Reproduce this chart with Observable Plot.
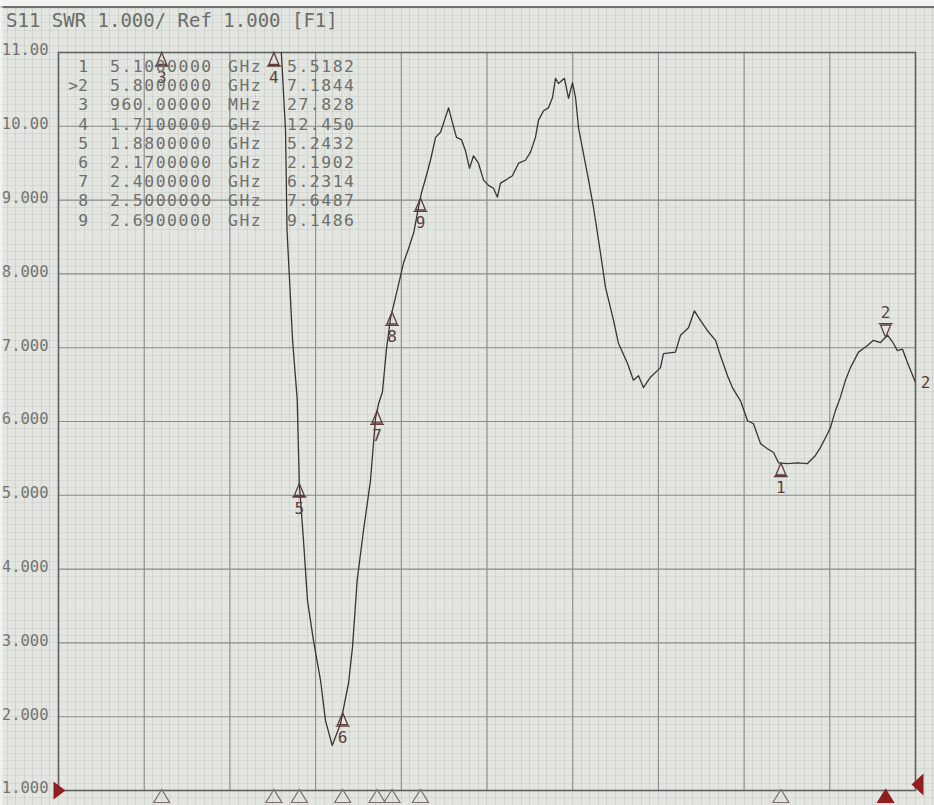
<!DOCTYPE html>
<html>
<head>
<meta charset="utf-8">
<script src="https://cdn.jsdelivr.net/npm/d3@7"></script>
<script src="https://cdn.jsdelivr.net/npm/@observablehq/plot@0.6"></script>
<style>
  html, body { margin: 0; padding: 0; }
  body {
    width: 934px; height: 805px; overflow: hidden; position: relative;
    background-color: #e3e5e0;
    background-image:
      repeating-linear-gradient(90deg, transparent 0 6.58px, rgba(70,75,70,0.11) 6.58px 7.58px, transparent 7.58px 8.57px),
      repeating-linear-gradient(180deg, transparent 0 0.34px, rgba(70,75,70,0.08) 0.34px 1.34px, transparent 1.34px 7.38px);
    font-family: "DejaVu Sans Mono", monospace;
  }
  #title { position: absolute; left: 6px; top: 9px; font-size: 19px; line-height: 22px; color: #6b6d6a; white-space: pre; }
  #chart { position: absolute; left: 0; top: 34px; }
  #table { position: absolute; left: 0; top: 57px; font-size: 16.4px; letter-spacing: 1.55px; line-height: 19.2px; color: #6e706d; }
  #table .row { position: relative; height: 19.2px; white-space: pre; }
  #table .row span { position: absolute; top: 0; }
  #table .num { left: 58px; width: 30px; text-align: right; letter-spacing: 0; }
  #table .freq { left: 110px; }
  #table .unit { left: 228px; }
  #table .val { left: 287px; }
  #bezel { position: absolute; left: 0; top: 0; width: 934px; height: 6px; background: #f3f4f2; border-bottom: 2px solid #6f716e; }
  #edge { position: absolute; left: 0; top: 0; width: 4px; height: 805px; background: linear-gradient(90deg, rgba(246,248,250,0.9), rgba(240,243,246,0.0)); }
</style>
</head>
<body>
<div id="bezel"></div>
<div id="title">S11 SWR 1.000/ Ref 1.000 [F1]</div>
<div id="chart"></div>
<div id="table"></div>
<div id="edge"></div>
<script>
const traceFreqGHz = [0.96, 1.71, 1.761, 1.788, 1.798, 1.835, 1.866, 1.880, 1.908, 1.935,
  1.975, 2.022, 2.055, 2.100, 2.155, 2.189, 2.209, 2.236, 2.267, 2.309,
  2.356, 2.390, 2.410, 2.436, 2.463, 2.490, 2.516, 2.543, 2.577, 2.610,
  2.644, 2.677, 2.697, 2.724, 2.757, 2.791, 2.824, 2.844, 2.878, 2.904,
  2.931, 2.964, 2.991, 3.018, 3.045, 3.078, 3.112, 3.145, 3.178, 3.205,
  3.225, 3.259, 3.305, 3.346, 3.392, 3.426, 3.459, 3.479, 3.513, 3.546,
  3.573, 3.593, 3.613, 3.653, 3.680, 3.707, 3.727, 3.747, 3.780, 3.814,
  3.847, 3.894, 3.927, 3.981, 4.014, 4.074, 4.114, 4.148, 4.181, 4.228,
  4.295, 4.315, 4.395, 4.429, 4.482, 4.522, 4.562, 4.609, 4.663, 4.696,
  4.743, 4.776, 4.830, 4.877, 4.917, 4.964, 5.010, 5.051, 5.084, 5.144,
  5.211, 5.278, 5.331, 5.365, 5.398, 5.432, 5.465, 5.498, 5.532, 5.565,
  5.619, 5.652, 5.679, 5.719, 5.766, 5.813, 5.846, 5.879, 5.913, 5.946, 6.0];
const traceSWR = [27.828, 12.450, 10.96, 9.94, 8.59, 7.10, 6.30, 5.16, 4.39, 3.57,
  3.03, 2.49, 1.95, 1.61, 1.90, 2.25, 2.45, 2.95, 3.85, 4.52,
  5.20, 6.05, 6.24, 6.40, 6.98, 7.40, 7.62, 7.85, 8.15, 8.34,
  8.55, 8.90, 9.10, 9.29, 9.54, 9.85, 9.92, 10.04, 10.25, 10.05,
  9.85, 9.82, 9.67, 9.43, 9.60, 9.50, 9.27, 9.20, 9.16, 9.04,
  9.23, 9.27, 9.33, 9.50, 9.54, 9.65, 9.85, 10.08, 10.21, 10.25,
  10.39, 10.65, 10.58, 10.65, 10.38, 10.59, 10.39, 9.98, 9.63, 9.27,
  8.90, 8.28, 7.82, 7.37, 7.06, 6.79, 6.56, 6.62, 6.46, 6.60,
  6.73, 6.92, 6.94, 7.17, 7.27, 7.50, 7.37, 7.23, 7.10, 6.89,
  6.62, 6.46, 6.28, 6.01, 5.97, 5.70, 5.63, 5.58, 5.44, 5.43,
  5.44, 5.43, 5.54, 5.65, 5.78, 5.92, 6.15, 6.33, 6.56, 6.73,
  6.94, 6.99, 7.03, 7.10, 7.07, 7.17, 7.08, 6.96, 6.98, 6.80, 6.53];

// ---- marker table ----
const markerNum = ["1", ">2", "3", "4", "5", "6", "7", "8", "9"];
const markerFreqGHz = [5.10, 5.80, 0.96, 1.71, 1.88, 2.17, 2.40, 2.50, 2.69];
const markerFreqText = ["5.1000000", "5.8000000", "960.00000", "1.7100000", "1.8800000", "2.1700000", "2.4000000", "2.5000000", "2.6900000"];
const markerUnit = ["GHz", "GHz", "MHz", "GHz", "GHz", "GHz", "GHz", "GHz", "GHz"];
const markerValue = ["5.5182", "7.1844", "27.828", "12.450", "5.2432", "2.1902", "6.2314", "7.6487", "9.1486"];
const activeMarker = 1; // index of marker 2

// ---- axis ----
const yTicks = [1, 2, 3, 4, 5, 6, 7, 8, 9, 10, 11];
const yTickLabels = ["1.000", "2.000", "3.000", "4.000", "5.000", "6.000", "7.000", "8.000", "9.000", "10.00", "11.00"];
const sweepStartGHz = 0.27, sweepStopGHz = 6.0;

// table
const table = document.getElementById("table");
markerNum.forEach((n, i) => {
  const row = document.createElement("div");
  row.className = "row";
  row.innerHTML = `<span class="num">${n}</span><span class="freq">${markerFreqText[i]}</span><span class="unit">${markerUnit[i]}</span><span class="val">${markerValue[i]}</span>`;
  table.appendChild(row);
});

function traceAt(f) {
  const i = d3.bisectLeft(traceFreqGHz, f);
  if (i <= 0) return traceSWR[0];
  if (i >= traceFreqGHz.length) return traceSWR[traceSWR.length - 1];
  const f0 = traceFreqGHz[i - 1], f1 = traceFreqGHz[i];
  const t = (f - f0) / (f1 - f0);
  return traceSWR[i - 1] + t * (traceSWR[i] - traceSWR[i - 1]);
}

const trace = traceFreqGHz.map((f, i) => ({f, s: traceSWR[i]}));
const markers = markerFreqGHz.map((f, i) => ({
  label: markerNum[i].replace(">", ""),
  f,
  y: Math.min(traceAt(f), 11),
  active: i === activeMarker
}));
const normalMarkers = markers.filter(d => !d.active);
const activeMarkers = markers.filter(d => d.active);

const xMajor = d3.range(11).map(i => sweepStartGHz + i * (sweepStopGHz - sweepStartGHz) / 10);

// symbols (apex at the anchor point)
const markerUp = {draw(c) { c.moveTo(0, 0); c.lineTo(-5, 12); c.lineTo(5, 12); c.closePath(); c.moveTo(-7, 13.5); c.lineTo(7, 13.5); }};
const markerDown = {draw(c) { c.moveTo(0, 0); c.lineTo(-5, -12); c.lineTo(5, -12); c.closePath(); c.moveTo(-7, -13.5); c.lineTo(7, -13.5); }};
const baseTri = {draw(c) { c.moveTo(0, 0); c.lineTo(-8, 13); c.lineTo(8, 13); c.closePath(); }};
const refRight = {draw(c) { c.moveTo(5, 0); c.lineTo(-7, -9); c.lineTo(-7, 9); c.closePath(); }};
const refLeft = {draw(c) { c.moveTo(-4, 0); c.lineTo(8, -11); c.lineTo(8, 11); c.closePath(); }};

const mono = "DejaVu Sans Mono";
const markerColor = "#5e3d39";

const chart = Plot.plot({
  width: 934,
  height: 771,
  marginLeft: 58,
  marginRight: 19,
  marginTop: 18,
  marginBottom: 15,
  style: {background: "transparent", overflow: "hidden", fontFamily: mono},
  x: {domain: [sweepStartGHz, sweepStopGHz], axis: null},
  y: {domain: [1, 11], axis: null},
  marks: [
    Plot.ruleX(xMajor, {stroke: "#8a8d88", strokeWidth: 1.1}),
    Plot.ruleY(yTicks, {stroke: "#8a8d88", strokeWidth: 1.1}),
    Plot.frame({stroke: "#5f615e", strokeWidth: 1.6}),
    Plot.text(yTicks, {y: d => d, text: (d, i) => yTickLabels[i], frameAnchor: "left", textAnchor: "end", dx: -10, dy: -2, fontSize: 15.5, fontFamily: mono, fill: "#737572"}),
    Plot.line(trace, {x: "f", y: "s", stroke: "#3a3534", strokeWidth: 1.3, clip: true}),
    // markers on the trace
    Plot.dot(normalMarkers, {x: "f", y: "y", symbol: markerUp, r: 5, fill: "none", stroke: markerColor, strokeWidth: 1.3}),
    Plot.text(normalMarkers, {x: "f", y: "y", text: "label", dy: 25, fontSize: 16, fontFamily: mono, fill: markerColor}),
    Plot.dot(activeMarkers, {x: "f", y: "y", symbol: markerDown, r: 5, fill: "none", stroke: markerColor, strokeWidth: 1.3}),
    Plot.text(activeMarkers, {x: "f", y: "y", text: "label", dy: -24, fontSize: 16, fontFamily: mono, fill: markerColor}),
    // trace end label for the active marker
    Plot.text(trace.slice(-1), {x: "f", y: "s", text: () => "2", dx: 10, fontSize: 16, fontFamily: mono, fill: markerColor}),
    // marker position indicators under the grid
    Plot.dot(normalMarkers, {x: "f", frameAnchor: "bottom", dy: -1, symbol: baseTri, r: 5, fill: "none", stroke: "#7f6f6b", strokeWidth: 1.2}),
    Plot.dot(activeMarkers, {x: "f", frameAnchor: "bottom", dy: -1, symbol: baseTri, r: 5, fill: "#8e1f1f", stroke: "#8e1f1f", strokeWidth: 1.2}),
    // reference level pointers
    Plot.dot([0], {frameAnchor: "bottom-left", dx: 2, symbol: refRight, r: 5, fill: "#8e1f1f", stroke: "none"}),
    Plot.dot([0], {frameAnchor: "bottom-right", dy: -6, symbol: refLeft, r: 5, fill: "#8e1f1f", stroke: "none"})
  ]
});
document.getElementById("chart").appendChild(chart);
</script>
</body>
</html>
